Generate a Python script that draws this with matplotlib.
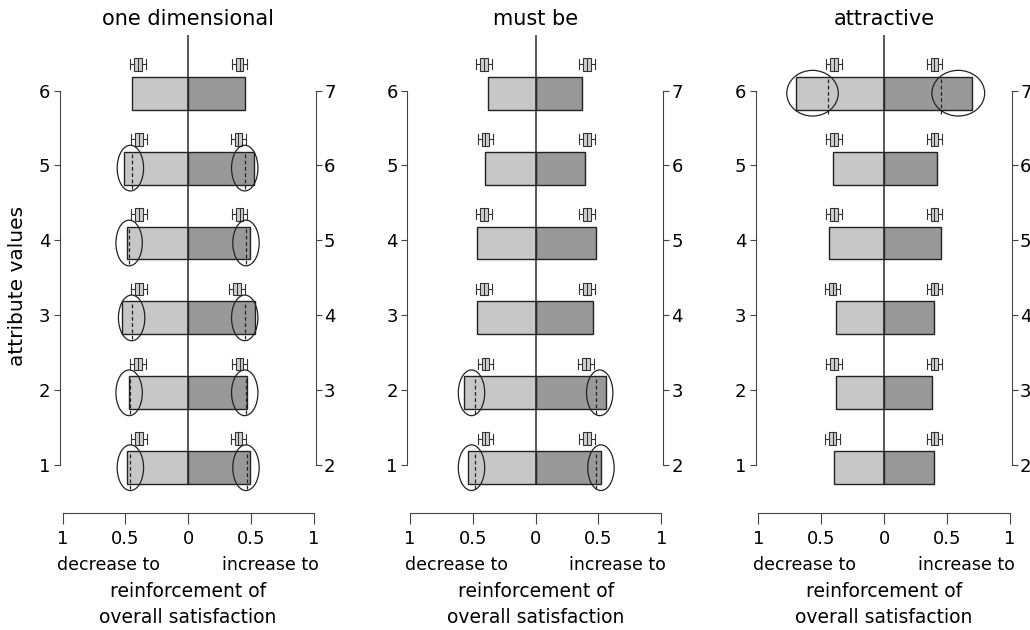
import matplotlib
matplotlib.use('Agg')
import matplotlib.pyplot as plt
from matplotlib.patches import Ellipse

plt.rcParams['font.family'] = ['DejaVu Sans']

# rows 1..6 (left axis), right axis shows 2..7
rows = [1, 2, 3, 4, 5, 6]
right_labels = ['2', '3', '4', '5', '6', '7']
titles = ['one dimensional', 'must be', 'attractive']

# bar lengths: decrease (left) / increase (right)
dec_one = [0.49, 0.47, 0.53, 0.49, 0.51, 0.45]
inc_one = [0.49, 0.47, 0.53, 0.49, 0.52, 0.45]
dec_must = [0.54, 0.57, 0.47, 0.47, 0.40, 0.38]
inc_must = [0.52, 0.56, 0.46, 0.48, 0.39, 0.37]
dec_attr = [0.40, 0.38, 0.38, 0.44, 0.41, 0.70]
inc_attr = [0.40, 0.38, 0.40, 0.45, 0.42, 0.70]

# medians of the small boxplots above the bars
box_dec_one = [0.39, 0.40, 0.39, 0.39, 0.39, 0.40]
box_inc_one = [0.40, 0.41, 0.39, 0.41, 0.40, 0.41]
box_dec_must = [0.40, 0.40, 0.41, 0.41, 0.40, 0.41]
box_inc_must = [0.41, 0.40, 0.41, 0.41, 0.41, 0.41]
box_dec_attr = [0.41, 0.40, 0.41, 0.40, 0.40, 0.40]
box_inc_attr = [0.40, 0.40, 0.40, 0.40, 0.40, 0.40]
BOX_Q = 0.03       # half width of box
BOX_WHIS = 0.062   # half width of whiskers

# ellipses: rows, centres, means (dashed) and widths
ell_rows_one = [1, 2, 3, 4, 5]
ell_dec_c_one = [0.46, 0.47, 0.45, 0.47, 0.46]
ell_dec_m_one = [0.46, 0.46, 0.45, 0.47, 0.45]
ell_inc_c_one = [0.46, 0.45, 0.45, 0.46, 0.45]
ell_inc_m_one = [0.47, 0.46, 0.45, 0.46, 0.45]
ell_w_one = [0.21, 0.21]

ell_rows_must = [1, 2]
ell_dec_c_must = [0.51, 0.51]
ell_dec_m_must = [0.48, 0.48]
ell_inc_c_must = [0.52, 0.51]
ell_inc_m_must = [0.48, 0.48]
ell_w_must = [0.21, 0.21]

ell_rows_attr = [6]
ell_dec_c_attr = [0.57]
ell_dec_m_attr = [0.45]
ell_inc_c_attr = [0.59]
ell_inc_m_attr = [0.45]
ell_w_attr = [0.41, 0.42]

panels = [
    (dec_one, inc_one, box_dec_one, box_inc_one,
     ell_rows_one, ell_dec_c_one, ell_dec_m_one, ell_inc_c_one, ell_inc_m_one, ell_w_one),
    (dec_must, inc_must, box_dec_must, box_inc_must,
     ell_rows_must, ell_dec_c_must, ell_dec_m_must, ell_inc_c_must, ell_inc_m_must, ell_w_must),
    (dec_attr, inc_attr, box_dec_attr, box_inc_attr,
     ell_rows_attr, ell_dec_c_attr, ell_dec_m_attr, ell_inc_c_attr, ell_inc_m_attr, ell_w_attr),
]

LIGHT = '#c6c7c6'
DARK = '#999999'
AXC = '#444444'
BAR_H = 0.44
BAR_OFF = -0.035
BOX_OFF = 0.35
ELL_H = 0.61

fig = plt.figure(figsize=(10.3, 6.3), dpi=100)
lefts = [0.0546, 0.3919, 0.7303]


def draw_boxes(ax, meds, sign):
    stats = []
    for m in meds:
        m = sign * m
        stats.append({'med': m, 'q1': m - BOX_Q, 'q3': m + BOX_Q,
                      'whislo': m - BOX_WHIS, 'whishi': m + BOX_WHIS, 'fliers': []})
    pos = [r + BOX_OFF for r in rows]
    ax.bxp(stats, positions=pos, widths=0.17, capwidths=0.13,
           orientation='horizontal', patch_artist=True, showfliers=False,
           manage_ticks=False,
           boxprops=dict(facecolor='#d0d0d0', edgecolor='#333333', linewidth=0.8),
           medianprops=dict(color='#333333', linewidth=0.8),
           whiskerprops=dict(color='#333333', linewidth=0.8),
           capprops=dict(color='#333333', linewidth=0.8))


for i, (dec, inc, bdec, binc, erows, edc, edm, eic, eim, ew) in enumerate(panels):
    ax = fig.add_axes([lefts[i], 0.1857, 0.2562, 0.7597])
    ax.set_xlim(-1.05, 1.05)
    ax.set_ylim(0.36, 6.75)

    ypos = [r + BAR_OFF for r in rows]
    ax.barh(ypos, [-d for d in dec], height=BAR_H, color=LIGHT,
            edgecolor='#222222', linewidth=1.0, zorder=2)
    ax.barh(ypos, inc, height=BAR_H, color=DARK,
            edgecolor='#222222', linewidth=1.0, zorder=2)
    ax.vlines(0, 0.73, 6.74, color='#2a2a2a', linewidth=1.1, zorder=3)

    draw_boxes(ax, bdec, -1)
    draw_boxes(ax, binc, 1)

    for r, c1, m1, c2, m2 in zip(erows, edc, edm, eic, eim):
        yc = r + BAR_OFF
        ax.add_patch(Ellipse((-c1, yc), ew[0], ELL_H, fill=False,
                             edgecolor='#222222', linewidth=0.9, zorder=4))
        ax.add_patch(Ellipse((c2, yc), ew[1], ELL_H, fill=False,
                             edgecolor='#222222', linewidth=0.9, zorder=4))
        ax.vlines([-m1, m2], yc - 0.28, yc + BAR_H / 2, colors='#222222',
                  linestyles=(0, (3, 2)), linewidth=0.9, zorder=4)

    # axes styling
    ax.spines['top'].set_visible(False)
    ax.spines['right'].set_visible(False)
    ax.spines['left'].set_position(('data', -1.02))
    ax.spines['left'].set_bounds(1, 6)
    ax.spines['bottom'].set_bounds(-1, 1)
    for s in ['left', 'bottom']:
        ax.spines[s].set_color(AXC)
    ax.set_yticks(rows)
    ax.set_yticklabels([str(r) for r in rows])
    ax.tick_params(axis='y', length=4, pad=3, labelsize=13, color=AXC)
    ax.set_xticks([-1, -0.5, 0, 0.5, 1])
    ax.set_xticklabels(['1', '0.5', '0', '0.5', '1'])
    ax.tick_params(axis='x', length=8, pad=4, labelsize=13, color=AXC)

    ax2 = ax.twinx()
    ax2.set_ylim(ax.get_ylim())
    for s in ['top', 'left', 'bottom']:
        ax2.spines[s].set_visible(False)
    ax2.spines['right'].set_position(('data', 1.015))
    ax2.spines['right'].set_bounds(1, 6)
    ax2.spines['right'].set_color(AXC)
    ax2.set_yticks(rows)
    ax2.set_yticklabels(right_labels)
    ax2.tick_params(axis='y', length=4, pad=2, labelsize=13, color=AXC)

    ax.set_title(titles[i], fontsize=15, pad=7)

    ax.text(-1.04, -0.34, 'decrease to', ha='left', va='center', fontsize=12.5)
    ax.text(1.04, -0.34, 'increase to', ha='right', va='center', fontsize=12.5)
    ax.text(0, -0.69, 'reinforcement of', ha='center', va='center', fontsize=13.5)
    ax.text(0, -1.04, 'overall satisfaction', ha='center', va='center', fontsize=13.5)

fig.text(18 / 1030, 0.546, 'attribute values', rotation=90,
         ha='center', va='center', fontsize=14.5)

fig.savefig('out.png', dpi=100)
